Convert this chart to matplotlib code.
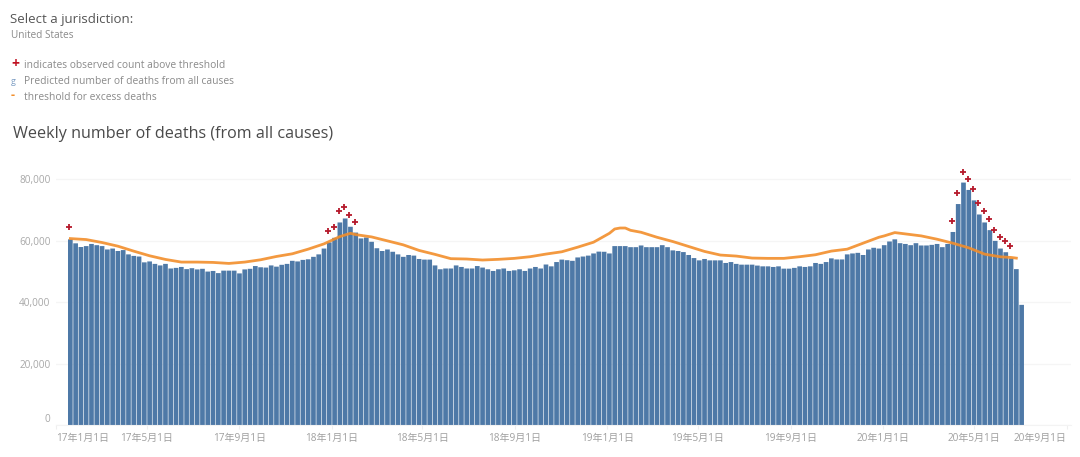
from datetime import datetime, timedelta

import matplotlib
matplotlib.use('Agg')
import matplotlib.pyplot as plt
import matplotlib.dates as mdates

W, H = 1080, 457
plt.rcParams['font.family'] = ['Open Sans', 'Noto Sans CJK SC', 'DejaVu Sans']

first_week = datetime(2017, 1, 20)

# predicted deaths, one value per week
predicted = [
    60500, 59200, 58000, 58300, 59000, 58600, 58300, 57200, 57500, 56700,
    57000, 55600, 55100, 54900, 53000, 53300, 52500, 52000, 52500, 51000,
    51200, 51500, 50800, 51100, 50700, 50900, 50000, 50200, 49500, 50300,
    50300, 50300, 49400, 50700, 50900, 51800, 51400, 51300, 52000, 51600,
    52200, 52500, 53500, 53300, 53800, 54000, 54800, 55600, 57500, 59500,
    61000, 66000, 67300, 64600, 62700, 60800, 61100, 59700, 57600, 56700,
    57200, 56450, 55600, 54800, 55400, 55200, 54100, 53900, 53900, 52000,
    50750, 51000, 51000, 52000, 51500, 51000, 51000, 51800, 51300, 50750,
    50200, 50750, 51000, 50200, 50400, 50750, 50200, 51000, 51500, 51000,
    52300, 51700, 53100, 53900, 53700, 53500, 54600, 54900, 55200, 55900,
    56500, 56450, 55900, 58300, 58300, 58300, 57950, 57950, 58500, 57950,
    57950, 57950, 58600, 57950, 56900, 56700, 56350, 55400, 54400, 53650,
    54100, 53650, 53650, 53650, 52800, 53100, 52500, 52250, 52250, 52250,
    51950, 51700, 51700, 51500, 51700, 50950, 50950, 51200, 51700, 51500,
    51700, 52800, 52500, 53100, 54300, 53950, 53950, 55600, 55900, 56100,
    55400, 57200, 57750, 57500, 58600, 59800, 60500, 59250, 59000, 58600,
    59250, 58500, 58500, 58700, 59000, 57950, 59000, 62900, 72000, 79000,
    76600, 73200, 68600, 66000, 63500, 60000, 57500, 56300, 54300, 50800,
    39150,
]

# threshold read at these week numbers (1 = first bar)
threshold_weeks = [
    1, 4, 7, 10, 13, 16, 19, 22, 25, 28, 31, 34, 37, 40, 43, 46, 49, 52, 54,
    55, 58, 61, 64, 67, 70, 73, 76, 79, 82, 85, 88, 91, 94, 97, 100, 103, 104,
    105, 106, 107, 109, 112, 115, 118, 121, 124, 127, 130, 133, 136, 139, 142,
    145, 148, 151, 154, 155, 157, 159, 162, 165, 168, 171, 174, 177, 179, 180,
]
threshold = [
    60750, 60430, 59460, 58270, 56650, 55140, 53950, 53090, 53090, 52980,
    52650, 53090, 53840, 54920, 55790, 57300, 59030, 61400, 62470, 62040,
    61290, 60000, 58700, 56880, 55600, 54200, 54090, 53760, 53980, 54300,
    54840, 55700, 56450, 57950, 59570, 62470, 63870, 64190, 64190, 63440,
    62800, 61180, 59785, 58170, 56560, 55380, 55050, 54400, 54300, 54300,
    54840, 55480, 56670, 57300, 59250, 61180, 61620, 62700, 62270, 61620,
    60540, 59240, 57730, 55680, 54800, 54600, 54380,
]

# weeks where the observed count is above the threshold
observed_weeks = [1, 50, 51, 52, 53, 54, 55, 168, 169, 170, 171, 172, 173, 174,
                  175, 176, 177, 178, 179]
observed = [64400, 63130, 64640, 69600, 71000, 68300, 66260, 66480, 75550,
            82570, 80300, 76850, 72200, 69700, 67000, 63670, 61190, 60100,
            58490]

y_ticks = [0, 20000, 40000, 60000, 80000]
x_ticks = [datetime(2017, 1, 1), datetime(2017, 5, 1), datetime(2017, 9, 1),
           datetime(2018, 1, 1), datetime(2018, 5, 1), datetime(2018, 9, 1),
           datetime(2019, 1, 1), datetime(2019, 5, 1), datetime(2019, 9, 1),
           datetime(2020, 1, 1), datetime(2020, 5, 1), datetime(2020, 9, 1)]
x_labels = ['17年1月1日', '17年5月1日', '17年9月1日', '18年1月1日', '18年5月1日',
            '18年9月1日', '19年1月1日', '19年5月1日', '19年9月1日', '20年1月1日',
            '20年5月1日', '20年9月1日']


def week_date(n):
    return first_week + timedelta(days=7 * (n - 1))


def put_text(x, y, s, **kw):
    fig.text(x / W, 1 - y / H, s, va='center', **kw)


fig = plt.figure(figsize=(W / 100, H / 100), dpi=100)

# axes box in pixels: left 56, right 1071, bottom 425, top 150
ax = fig.add_axes([56 / W, 1 - 425 / H, (1071 - 56) / W, 275 / H])

bar_dates = [week_date(i + 1) for i in range(len(predicted))]
bars = ax.bar(bar_dates, predicted, width=6.2, color='#4e79a7', zorder=2)
for b in bars:
    b.set_snap(False)

ax.plot([week_date(n) for n in threshold_weeks], threshold, color='#f28e2b',
        linewidth=2.0, alpha=0.9, zorder=3)

ax.plot([week_date(n) - timedelta(hours=30) for n in observed_weeks], observed,
        linestyle='none', marker='+', markersize=5, markeredgewidth=1.3,
        color='#b5192b', zorder=4, clip_on=False)

ax.set_xlim(datetime(2017, 1, 1), datetime(2017, 1, 1) + timedelta(days=1344.4))
ax.set_ylim(0, 80000 * 275 / 245.5)

ax.set_yticks(y_ticks)
ax.set_yticklabels([f'{v:,}' for v in y_ticks])
ax.set_xticks([mdates.date2num(d) for d in x_ticks])
ax.set_xticklabels(x_labels)
ax.grid(axis='y', color='#f5f5f5', linewidth=1, zorder=0)
ax.set_axisbelow(True)

for side in ['top', 'right', 'left']:
    ax.spines[side].set_visible(False)
ax.spines['bottom'].set_color('#f3f3f3')

ax.tick_params(axis='y', length=0, labelsize=7.2, labelcolor='#a8a8a8', pad=4)
ax.tick_params(axis='x', length=3, color='#efefef', labelsize=7.2,
               labelcolor='#a0a0a0', pad=3)

tick_texts = ax.get_xticklabels()
tick_texts[0].set_ha('left')
tick_texts[-1].set_ha('right')
ax.get_yticklabels()[0].set_va('bottom')

put_text(10, 20, 'Select a jurisdiction:', fontsize=9.5, color='#555555')
put_text(11, 36, 'United States', fontsize=7.2, color='#8a8a8a')

put_text(11, 64, '+', fontsize=10, color='#c01020', fontweight='bold')
put_text(24, 65, 'indicates observed count above threshold', fontsize=7.4,
         color='#8a8a8a')
put_text(11, 81, 'g', fontsize=6.5, color='#7f9fc4')
put_text(24, 81, 'Predicted number of deaths from all causes', fontsize=7.4,
         color='#8a8a8a')
put_text(11, 96, '-', fontsize=9, color='#f28e2b', fontweight='bold')
put_text(24, 97, 'threshold for excess deaths', fontsize=7.4, color='#8a8a8a')

put_text(13, 134, 'Weekly number of deaths (from all causes)', fontsize=11.65,
         color='#4a4a4a')

plt.savefig('out.png', dpi=100)
